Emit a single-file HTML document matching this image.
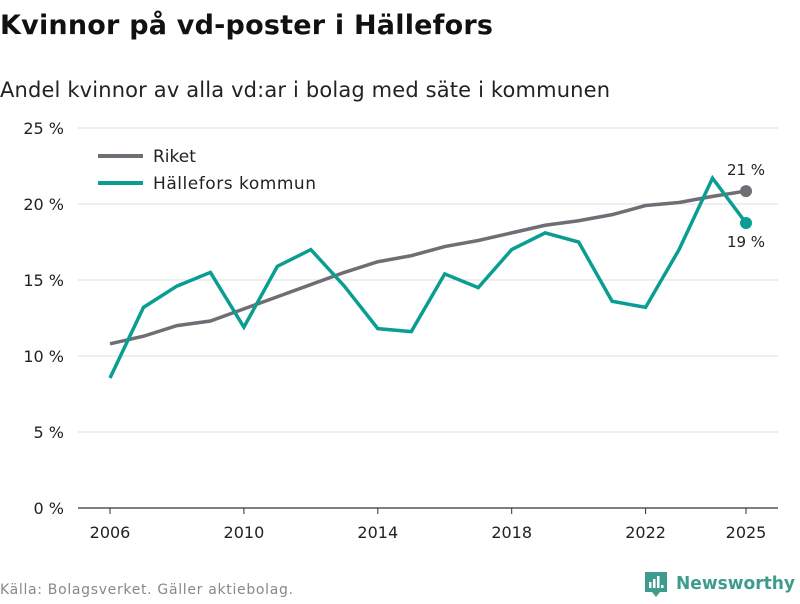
<!DOCTYPE html>
<html><head><meta charset="utf-8"><style>
body{margin:0;background:#fff;font-family:"DejaVu Sans","Liberation Sans",sans-serif;}
svg text{font-family:"DejaVu Sans","Liberation Sans",sans-serif;}
</style></head><body>
<svg id="c" width="800" height="600" xmlns="http://www.w3.org/2000/svg">
<text x="0" y="34" font-size="27" font-weight="bold" fill="#111" textLength="493">Kvinnor på vd-poster i Hällefors</text>
<text x="0" y="97" font-size="21" fill="#222" textLength="610">Andel kvinnor av alla vd:ar i bolag med säte i kommunen</text>
<g id="grid"></g><g id="lines"></g>
<g>
<line x1="98" y1="156" x2="143" y2="156" stroke="#706d75" stroke-width="4"/>
<text x="153" y="162" font-size="17" fill="#222">Riket</text>
<line x1="98" y1="183" x2="143" y2="183" stroke="#0a9e93" stroke-width="4"/>
<text x="153" y="189" font-size="17" fill="#222" textLength="163">Hällefors kommun</text>
</g>
<text x="0" y="594" font-size="14" fill="#888" textLength="293">Källa: Bolagsverket. Gäller aktiebolag.</text>
<g>
<path d="M645 572h22v20h-7l-4 5-4-5h-7z" fill="#3e9c8f"/>
<rect x="649" y="582" width="2.5" height="6" fill="#fff"/><rect x="653" y="579" width="2.5" height="9" fill="#fff"/><rect x="657" y="576" width="2.5" height="12" fill="#fff"/><rect x="661" y="585" width="2.5" height="3" fill="#fff"/>
<text x="676" y="589" font-size="18" font-weight="bold" fill="#3e9c8f" textLength="119" lengthAdjust="spacingAndGlyphs">Newsworthy</text>
</g>
</svg>
<script>
const years=[2006,2007,2008,2009,2010,2011,2012,2013,2014,2015,2016,2017,2018,2019,2020,2021,2022,2023,2024,2025];
const riket=[10.8,11.3,12.0,12.3,13.1,13.9,14.7,15.5,16.2,16.6,17.2,17.6,18.1,18.6,18.9,19.3,19.9,20.1,20.5,20.85];
const hallefors=[8.55,13.2,14.6,15.5,11.9,15.9,17.0,14.6,11.8,11.6,15.4,14.5,17.0,18.1,17.5,13.6,13.2,17.0,21.7,18.75];
const yTicks=[0,5,10,15,20,25];
const xTicks=[2006,2010,2014,2018,2022,2025];
const NS="http://www.w3.org/2000/svg";
const X=v=>110+(v-2006)*(746-110)/19;
const Y=v=>508-v*15.2;
function mk(t,a,p){const e=document.createElementNS(NS,t);for(const k in a)e.setAttribute(k,a[k]);p.appendChild(e);return e;}
const grid=document.getElementById('grid'),lines=document.getElementById('lines');
yTicks.forEach(t=>{
 const l=mk('line',{x1:78,x2:778,y1:Y(t),y2:Y(t),stroke:t===0?'#333':'#ddd','stroke-width':t===0?1.2:1},grid);
 
 
 const tx=mk('text',{x:64,y:Y(t)+6,'font-size':16,fill:'#222','text-anchor':'end'},grid);tx.textContent=t+' %';
 
 
});
xTicks.forEach(t=>{
 const l=mk('line',{x1:X(t),x2:X(t),y1:508,y2:514,stroke:'#333'},grid);
 
 
 const tx=mk('text',{x:X(t),y:538,'font-size':16,fill:'#222','text-anchor':'middle'},grid);tx.textContent=t;
 
 
});
function series(vals,col,name){
 const p=mk('polyline',{points:vals.map((v,i)=>X(years[i])+','+Y(v)).join(' '),fill:'none',stroke:col,'stroke-width':3.5,'stroke-linejoin':'miter'},lines);
 
 
 const n=vals.length-1;
 const c=mk('circle',{cx:X(years[n]),cy:Y(vals[n]),r:6,fill:col},lines);
 
 
}
series(riket,'#706d75','riket');
series(hallefors,'#0a9e93','hallefors');
const n=years.length-1;
const l1=mk('text',{x:X(years[n]),y:Y(riket[n])-16,'font-size':15,fill:'#222','text-anchor':'middle'},lines);l1.textContent=Math.round(riket[n])+' %';


const l2=mk('text',{x:X(years[n]),y:Y(hallefors[n])+24,'font-size':15,fill:'#222','text-anchor':'middle'},lines);l2.textContent=Math.round(hallefors[n])+' %';


</script>
</body></html>
